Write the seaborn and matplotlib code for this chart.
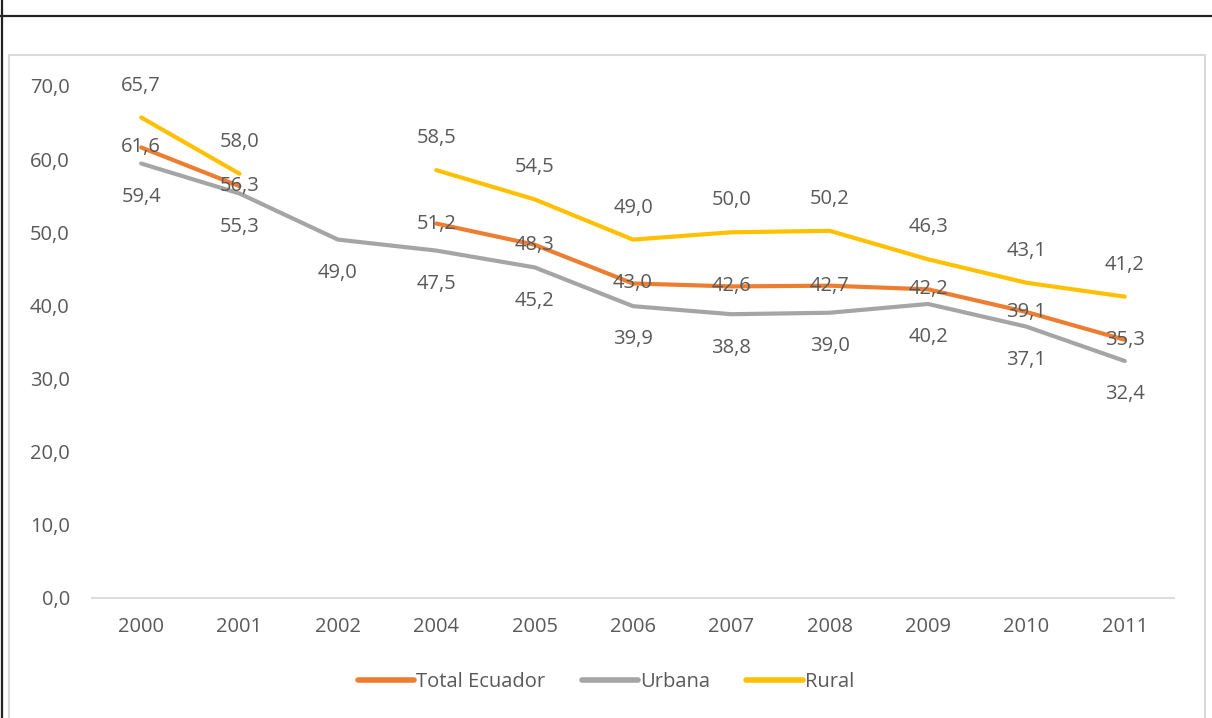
import matplotlib.pyplot as plt
import seaborn as sns
import pandas as pd
import numpy as np
from matplotlib.lines import Line2D
from matplotlib.patches import Rectangle

# datos (tasa por área), los años sin dato quedan como NaN
anios = ['2000', '2001', '2002', '2004', '2005', '2006', '2007', '2008', '2009', '2010', '2011']
total = [61.6, 56.3, np.nan, 51.2, 48.3, 43.0, 42.6, 42.7, 42.2, 39.1, 35.3]
urbana = [59.4, 55.3, 49.0, 47.5, 45.2, 39.9, 38.8, 39.0, 40.2, 37.1, 32.4]
rural = [65.7, 58.0, np.nan, 58.5, 54.5, 49.0, 50.0, 50.2, 46.3, 43.1, 41.2]

series = {'Total Ecuador': total, 'Urbana': urbana, 'Rural': rural}
colores = {'Total Ecuador': '#ED7D31', 'Urbana': '#A5A5A5', 'Rural': '#FFC000'}
# posición de la etiqueta respecto al punto (en puntos)
desplaz = {'Total Ecuador': 0, 'Urbana': -24, 'Rural': 23}

gris_txt = '#595959'
tam = 14.5

# armamos el formato largo, con un id de tramo para cortar la línea en los huecos
filas = []
for nombre, valores in series.items():
    tramo = 0
    for i, v in enumerate(valores):
        if np.isnan(v):
            tramo += 1
            continue
        filas.append({'pos': i, 'valor': v, 'serie': nombre, 'tramo': f'{nombre}-{tramo}'})
df = pd.DataFrame(filas)

sns.set_theme(style="white")
plt.rcParams['font.family'] = ['Open Sans', 'DejaVu Sans']

fig = plt.figure(figsize=(12.12, 7.18), dpi=100)
ax = fig.add_axes([92 / 1212, 1 - 598 / 718, 1082 / 1212, 512 / 718])

sns.lineplot(data=df, x='pos', y='valor', hue='serie', units='tramo', estimator=None,
             palette=colores, hue_order=list(series), linewidth=3, ax=ax, legend=False,
             solid_capstyle='round')

for nombre, valores in series.items():
    for i, v in enumerate(valores):
        if np.isnan(v):
            continue
        ax.annotate(f'{v:.1f}'.replace('.', ','), (i, v), xytext=(0, desplaz[nombre]),
                    textcoords='offset points', ha='center', va='center',
                    fontsize=tam, color=gris_txt)

ax.set_xlim(-0.5, len(anios) - 0.5)
ax.set_ylim(0, 70)
ax.set_xticks(range(len(anios)))
ax.set_xticklabels(anios)
ax.set_yticks(np.arange(0, 71, 10))
ax.set_yticklabels([f'{t:.1f}'.replace('.', ',') for t in np.arange(0, 71, 10)])
ax.tick_params(axis='both', length=0, labelsize=tam, labelcolor=gris_txt)
ax.tick_params(axis='x', pad=14)
ax.tick_params(axis='y', pad=16)
ax.set_xlabel('')
ax.set_ylabel('')
for lado in ['top', 'right', 'left']:
    ax.spines[lado].set_visible(False)
ax.spines['bottom'].set_color('#D9D9D9')
ax.spines['bottom'].set_linewidth(1.3)
ax.patch.set_alpha(0)

# leyenda abajo
manejadores = [Line2D([0], [0], color=colores[n], lw=4, solid_capstyle='round') for n in series]
fig.legend(manejadores, list(series), loc='center', bbox_to_anchor=(0.5, 1 - 682 / 718),
           ncol=3, frameon=False, fontsize=tam, labelcolor=gris_txt,
           handlelength=2.8, handletextpad=0.1, columnspacing=1.8)

# marco gris del área del gráfico y bordes negros de la página
fig.patches.append(Rectangle((9 / 1212, -0.05), 1196 / 1212, 1.05 - 55 / 718,
                             transform=fig.transFigure, fill=False,
                             edgecolor='#D9D9D9', linewidth=1.5, zorder=0))
fig.add_artist(Line2D([0, 1], [1 - 15.5 / 718] * 2, transform=fig.transFigure,
                      color='#222222', linewidth=1.6))
fig.add_artist(Line2D([1.5 / 1212] * 2, [0, 1], transform=fig.transFigure,
                      color='#222222', linewidth=1.6))

plt.savefig('out.png', dpi=100)
